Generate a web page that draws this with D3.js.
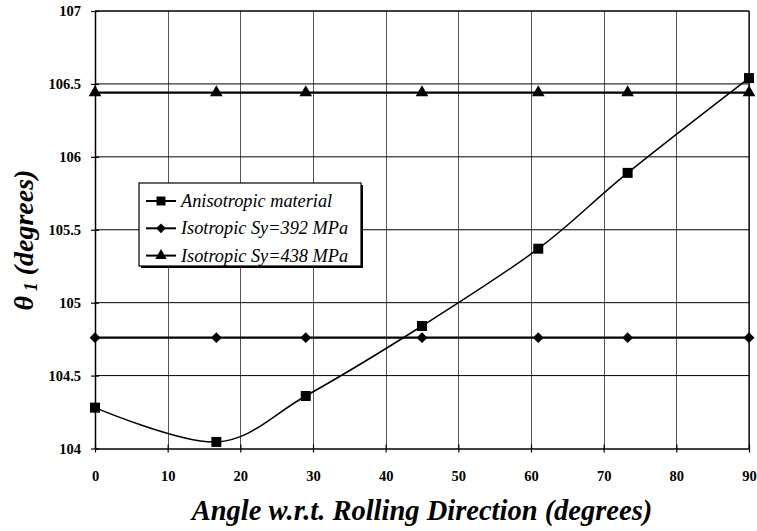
<!DOCTYPE html>
<html>
<head>
<meta charset="utf-8">
<script src="https://cdn.jsdelivr.net/npm/d3@7"></script>
<style>
  body { margin: 0; background: #fff; }
  svg { display: block; }
  svg text { font-family: "Liberation Serif", Tinos, "Times New Roman", Times, "DejaVu Serif", serif; }
</style>
</head>
<body>
<div id="chart"></div>
<script>
// Data
const angles = [0, 16.7, 29, 45, 61, 73.3, 90];
const anisotropic = [104.28, 104.045, 104.36, 104.84, 105.37, 105.89, 106.54];
const iso392 = [104.76, 104.76, 104.76, 104.76, 104.76, 104.76, 104.76];
const iso438 = [106.44, 106.44, 106.44, 106.44, 106.44, 106.44, 106.44];
const xTicks = [0, 10, 20, 30, 40, 50, 60, 70, 80, 90];
const yTicks = [104, 104.5, 105, 105.5, 106, 106.5, 107];
const legendLabels = ["Anisotropic material", "Isotropic Sy=392 MPa", "Isotropic Sy=438 MPa"];

const serif = "Liberation Serif, Tinos, Times New Roman, Times, DejaVu Serif, serif";

// Set the dimensions and margins of the graph
const margin = {top: 11, right: 8, bottom: 82.5, left: 95},
      width = 757 - margin.left - margin.right,
      height = 531 - margin.top - margin.bottom;

const svg = d3.select("#chart")
  .append("svg")
    .attr("width", width + margin.left + margin.right)
    .attr("height", height + margin.top + margin.bottom)
  .append("g")
    .attr("transform", `translate(${margin.left},${margin.top})`);

const x = d3.scaleLinear().domain([0, 90]).range([0, width]);
const y = d3.scaleLinear().domain([104, 107]).range([height, 0]);

// Grid lines
svg.append("g")
  .selectAll("line")
  .data(xTicks.slice(1))
  .join("line")
    .attr("x1", d => Math.round(x(d)) + 0.5)
    .attr("x2", d => Math.round(x(d)) + 0.5)
    .attr("y1", 0)
    .attr("y2", height)
    .attr("stroke", "#555")
    .attr("stroke-width", 1);

svg.append("g")
  .selectAll("line")
  .data(yTicks.slice(1))
  .join("line")
    .attr("x1", 0)
    .attr("x2", width)
    .attr("y1", d => y(d))
    .attr("y2", d => y(d))
    .attr("stroke", "#000")
    .attr("stroke-width", 1);

// Axes (cross tick marks)
const xAxis = svg.append("g")
  .attr("transform", `translate(0,${height})`)
  .call(d3.axisBottom(x).tickValues(xTicks).tickSize(4).tickPadding(18).tickSizeOuter(0));
xAxis.selectAll(".tick line").attr("y1", -4);
const yAxis = svg.append("g")
  .call(d3.axisLeft(y).tickValues(yTicks).tickFormat(d3.format("")).tickSize(4).tickPadding(10).tickSizeOuter(0));
yAxis.selectAll(".tick line").attr("x1", 4);

[xAxis, yAxis].forEach(a => {
  a.attr("font-family", serif).attr("font-size", 14.5);
  a.select(".domain").attr("stroke", "#000").attr("stroke-width", 1.5);
  a.selectAll(".tick line").attr("stroke", "#000").attr("stroke-width", 1.2);
  a.selectAll("text")
    .attr("fill", "#000")
    .attr("font-weight", "bold");
});

// Top and right border
svg.append("line").attr("x1", 0).attr("x2", width).attr("y1", 0).attr("y2", 0)
  .attr("stroke", "#000").attr("stroke-width", 1.2);
svg.append("line").attr("x1", width).attr("x2", width).attr("y1", 0).attr("y2", height)
  .attr("stroke", "#000").attr("stroke-width", 1.2);

// Series
const series = [
  {name: legendLabels[0], values: anisotropic, symbol: d3.symbolSquare, size: 100, curve: d3.curveCardinal.tension(0), sw: 1.5},
  {name: legendLabels[1], values: iso392, symbol: d3.symbolDiamond2, size: 75, curve: d3.curveLinear, sw: 2.2},
  {name: legendLabels[2], values: iso438, symbol: d3.symbolTriangle, size: 70, curve: d3.curveLinear, sw: 2.2}
];

series.forEach(s => {
  const pts = angles.map((a, i) => ({x: a, y: s.values[i]}));
  const line = d3.line().x(d => x(d.x)).y(d => y(d.y)).curve(s.curve);
  svg.append("path")
    .datum(pts)
    .attr("fill", "none")
    .attr("stroke", "#000")
    .attr("stroke-width", s.sw)
    .attr("d", line);
  svg.append("g")
    .selectAll("path")
    .data(pts)
    .join("path")
      .attr("transform", d => `translate(${x(d.x)},${y(d.y)})`)
      .attr("d", d3.symbol(s.symbol, s.size))
      .attr("fill", "#000");
});

// Legend
const legend = svg.append("g").attr("transform", `translate(${139 - margin.left},${183 - margin.top})`);
legend.append("rect")
  .attr("x", 2).attr("y", 2).attr("width", 222).attr("height", 83)
  .attr("fill", "#000");
legend.append("rect")
  .attr("width", 222).attr("height", 83)
  .attr("fill", "#fff").attr("stroke", "#000").attr("stroke-width", 1.2);

series.forEach((s, i) => {
  const ly = 18 + i * 27.3;
  legend.append("line")
    .attr("x1", 7).attr("x2", 37).attr("y1", ly).attr("y2", ly)
    .attr("stroke", "#000").attr("stroke-width", 2);
  legend.append("path")
    .attr("transform", `translate(22,${ly})`)
    .attr("d", d3.symbol(s.symbol, s.size * 0.8))
    .attr("fill", "#000");
  legend.append("text")
    .attr("x", 42).attr("y", ly)
    .attr("dy", "0.33em")
    .attr("font-family", serif)
    .attr("font-style", "italic")
    .attr("font-size", 18.3)
    .text(s.name);
});

// Axis titles
svg.append("text")
  .attr("text-anchor", "middle")
  .attr("x", width / 2)
  .attr("y", height + 71.5)
  .attr("font-family", serif)
  .attr("font-weight", "bold")
  .attr("font-style", "italic")
  .attr("font-size", 28.5)
  .text("Angle w.r.t. Rolling Direction (degrees)");

const yTitle = svg.append("text")
  .attr("text-anchor", "middle")
  .attr("transform", `translate(${33 - margin.left},${240 - margin.top}) rotate(-90)`)
  .attr("font-family", serif)
  .attr("font-weight", "bold")
  .attr("font-style", "italic")
  .attr("font-size", 28);
yTitle.append("tspan").text("θ");
yTitle.append("tspan").attr("dy", 4).attr("font-size", 18).text(" 1");
yTitle.append("tspan").attr("dy", -4).text("  (degrees)");
</script>
</body>
</html>
